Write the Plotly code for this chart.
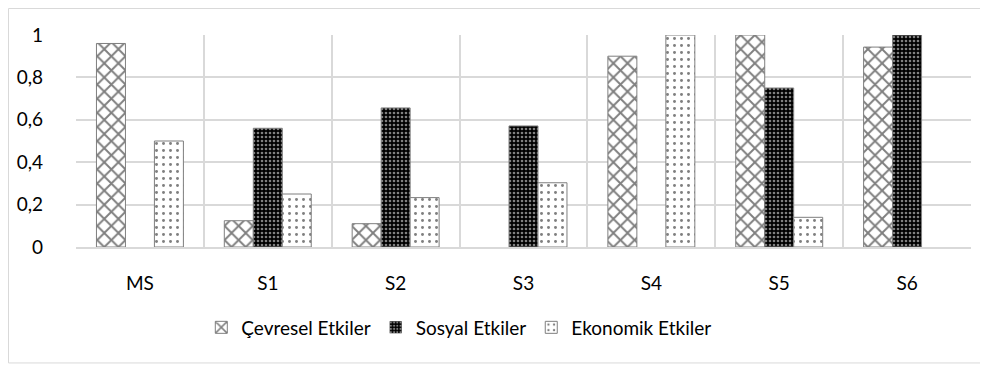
import plotly.graph_objects as go

categories = ["MS", "S1", "S2", "S3", "S4", "S5", "S6"]
cevresel = [0.96, 0.124, 0.11, 0, 0.90, 1.0, 0.943]
sosyal = [0, 0.56, 0.656, 0.571, 0, 0.75, 1.0]
ekonomik = [0.50, 0.25, 0.233, 0.303, 1.0, 0.14, 0]
series_names = ["Çevresel Etkiler", "Sosyal Etkiler", "Ekonomik Etkiler"]
y_ticks = [0, 0.2, 0.4, 0.6, 0.8, 1]

FONT = "Lato"
SIZE = 19


def outline(vals):
    return [0 if v == 0 else 1 for v in vals]


fig = go.Figure()
fig.add_trace(go.Bar(
    x=categories, y=cevresel, name=series_names[0],
    marker=dict(color="white", line=dict(color="#7f7f7f", width=outline(cevresel)),
                pattern=dict(shape="x", fgcolor="black", bgcolor="white", size=10, solidity=0.35)),
))
fig.add_trace(go.Bar(
    x=categories, y=sosyal, name=series_names[1],
    marker=dict(color="black", line=dict(color="#7f7f7f", width=outline(sosyal)),
                pattern=dict(shape=".", fgcolor="white", bgcolor="black", size=4, solidity=0.35)),
))
fig.add_trace(go.Bar(
    x=categories, y=ekonomik, name=series_names[2],
    marker=dict(color="white", line=dict(color="#7f7f7f", width=outline(ekonomik)),
                pattern=dict(shape=".", fgcolor="black", bgcolor="white", size=7, solidity=0.14)),
))

fig.update_layout(
    width=980, height=362,
    margin=dict(l=68, r=17, t=27, b=123, autoexpand=False),
    barmode="group", bargap=0.32, bargroupgap=0,
    paper_bgcolor="white", plot_bgcolor="white",
    separators=", ",
    font=dict(family=FONT, size=SIZE, color="#000000"),
    legend=dict(orientation="h", x=0.14, xanchor="left", y=-0.29, yanchor="top",
                font=dict(family=FONT, size=SIZE), itemwidth=30, tracegroupgap=0),
    xaxis=dict(tickson="boundaries", showgrid=True, gridcolor="#d9d9d9", gridwidth=1.5,
               showline=True, linecolor="#d9d9d9", linewidth=1.5, ticks="",
               ticklabelstandoff=18, tickfont=dict(size=SIZE)),
    yaxis=dict(range=[0, 1], tickvals=y_ticks, tickformat=".1~f",
               showgrid=True, gridcolor="#d9d9d9", gridwidth=1.5,
               zeroline=False, showline=False, ticks="", ticklabelstandoff=32,
               tickfont=dict(size=SIZE)),
    shapes=[dict(type="rect", xref="paper", yref="paper",
                 x0=-0.0754, x1=1.0112, y0=-0.547, y1=1.125,
                 line=dict(color="#d9d9d9", width=1))],
)
fig.write_html("out.html")
